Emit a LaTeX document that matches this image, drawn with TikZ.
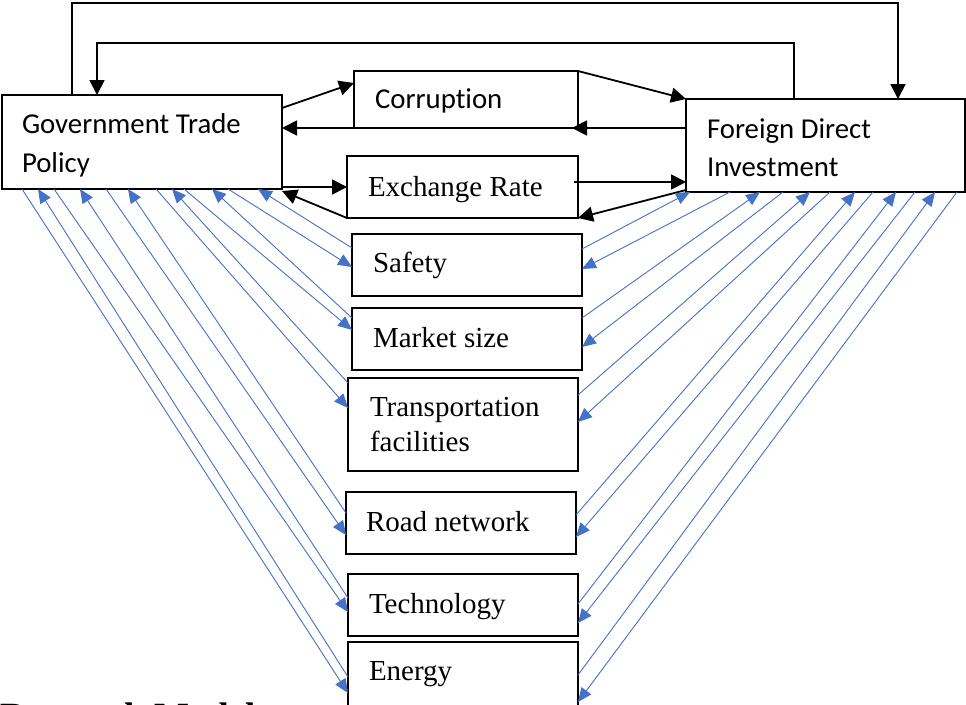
\documentclass[tikz,border=0pt]{standalone}
\usepackage{fontspec}
\setmainfont{Liberation Serif}
\newfontfamily\calib[Ligatures=NoCommon]{Carlito}
\usetikzlibrary{arrows.meta}
\definecolor{bl}{HTML}{4472C4}
\begin{document}
\begin{tikzpicture}[x=1pt,y=-1pt,
  box/.style={draw, line width=1.8pt, rectangle, outer sep=0pt, inner sep=0pt},
  lbl/.style={anchor=base west, inner sep=0pt, outer sep=0pt, font=\fontsize{29}{35}\selectfont},
  slbl/.style={anchor=base west, inner sep=0pt, outer sep=0pt, font=\calib\fontsize{28.8}{35}\selectfont},
  blk/.style={line width=1.8pt, -{Triangle[length=15pt,width=15pt]}},
  blu/.style={draw=bl, line width=0.9pt, -{Triangle[length=14pt,width=12pt,fill=bl]}},
]
\useasboundingbox (0,0) rectangle (966,704);
\clip (0,0) rectangle (966,704);
\fill[white] (0,0) rectangle (966,704);

% boxes
\node[box, minimum width=280pt, minimum height=94pt] (gtp) at (142,142) {};
\node[box, minimum width=224pt, minimum height=57pt] (corr) at (466,99.5) {};
\node[box, minimum width=279pt, minimum height=93pt] (fdi) at (825.5,145.5) {};
\node[box, minimum width=231pt, minimum height=62pt] (exch) at (462.5,187) {};
\node[box, minimum width=230pt, minimum height=62pt] (safety) at (467,265) {};
\node[box, minimum width=230pt, minimum height=62pt] (market) at (467,339) {};
\node[box, minimum width=230pt, minimum height=93pt] (transp) at (463,424.5) {};
\node[box, minimum width=230pt, minimum height=62pt] (road) at (461,523) {};
\node[box, minimum width=230pt, minimum height=62pt] (tech) at (463,605) {};
\node[box, minimum width=230pt, minimum height=64pt] (energy) at (463,674) {};

% labels
\node[slbl] (gtpA) at (22,133) {Government Trade};
\node[slbl] (gtpB) at (22,172) {Policy};
\node[slbl] (corrT) at (375,108) {Corruption};
\node[slbl] (fdiA) at (707,138) {Foreign Direct};
\node[slbl] (fdiB) at (707,176) {Investment};
\node[lbl] (exchT) at (368,196) {Exchange Rate};
\node[lbl] (safetyT) at (373,272) {Safety};
\node[lbl] (marketT) at (373,347) {Market size};
\node[lbl] (transpA) at (370,416) {Transportation};
\node[lbl] (transpB) at (370,451) {facilities};
\node[lbl] (roadT) at (366,531) {Road network};
\node[lbl] (techT) at (369,613) {Technology};
\node[lbl] (energyT) at (369,680) {Energy};
\node[anchor=base west, inner sep=0pt, font=\bfseries\fontsize{37}{40}\selectfont] (cap) at (0,728) {Research Model};

% black loops
\coordinate (loopA) at (500,3);
\coordinate (loopB) at (500,43);
\draw[blk] ([xshift=70pt]gtp.north west) |- (loopA) -| ([xshift=212pt]fdi.north west);
\draw[blk] ([xshift=108pt]fdi.north west) |- (loopB) -| ([xshift=95pt]gtp.north west);

% black arrows
\draw[blk] ([yshift=-13pt]gtp.north east) -- ([yshift=-12pt]corr.north west);
\draw[blk] (corr.south west) -- (corr.south west -| gtp.east);
\draw[blk] (corr.north east) -- (fdi.north west);
\draw[blk] (corr.south east -| fdi.west) -- ([xshift=-6pt]corr.south east);
\draw[blk] (exch.west -| gtp.east) -- (exch.west);
\draw[blk] (exch.south west) -- ([yshift=-2pt]gtp.south east);
\draw[blk] ([xshift=-4pt,yshift=5pt]exch.east) -- ([yshift=5pt]exch.east -| fdi.west);
\draw[blk] ([yshift=2pt]fdi.south west) -- (exch.south east);

% blue arrows, left side
\draw[blu] ([xshift=226pt]gtp.south west) -- ([yshift=-2pt]safety.west);
\draw[blu] ([yshift=17pt]safety.west) -- ([xshift=256pt]gtp.south west);
\draw[blu] ([xshift=182pt]gtp.south west) -- ([yshift=9pt]market.west);
\draw[blu] ([yshift=21pt]market.west) -- ([xshift=210pt]gtp.south west);
\draw[blu] ([xshift=154pt]gtp.south west) -- ([yshift=16.5pt]transp.west);
\draw[blu] ([yshift=41.5pt]transp.west) -- ([xshift=170pt]gtp.south west);
\draw[blu] ([xshift=104pt]gtp.south west) -- ([yshift=-12pt]road.west);
\draw[blu] ([yshift=10pt]road.west) -- ([xshift=126pt]gtp.south west);
\draw[blu] ([xshift=52pt]gtp.south west) -- ([yshift=-7pt]tech.west);
\draw[blu] ([yshift=7pt]tech.west) -- ([xshift=78pt]gtp.south west);
\draw[blu] ([xshift=20pt]gtp.south west) -- ([yshift=-19pt]energy.west);
\draw[blu] ([yshift=-3pt]energy.west) -- ([xshift=36pt]gtp.south west);

% blue arrows, right side
\draw[blu] ([xshift=44pt]fdi.south west) -- ([yshift=-4pt]safety.east);
\draw[blu] ([yshift=16pt]safety.east) -- ([xshift=4pt]fdi.south west);
\draw[blu] ([xshift=97pt]fdi.south west) -- ([yshift=-8pt]market.east);
\draw[blu] ([yshift=21pt]market.east) -- ([xshift=74pt]fdi.south west);
\draw[blu] ([xshift=144pt]fdi.south west) -- ([yshift=2.5pt]transp.east);
\draw[blu] ([yshift=29.5pt]transp.east) -- ([xshift=124pt]fdi.south west);
\draw[blu] ([xshift=187pt]fdi.south west) -- ([yshift=-14pt]road.east);
\draw[blu] ([yshift=8pt]road.east) -- ([xshift=169pt]fdi.south west);
\draw[blu] ([xshift=229pt]fdi.south west) -- ([yshift=-18pt]tech.east);
\draw[blu] ([yshift=1pt]tech.east) -- ([xshift=210pt]fdi.south west);
\draw[blu] ([xshift=271pt]fdi.south west) -- ([yshift=-28pt]energy.east);
\draw[blu] ([yshift=-1pt]energy.east) -- ([xshift=249pt]fdi.south west);
\end{tikzpicture}
\end{document}
